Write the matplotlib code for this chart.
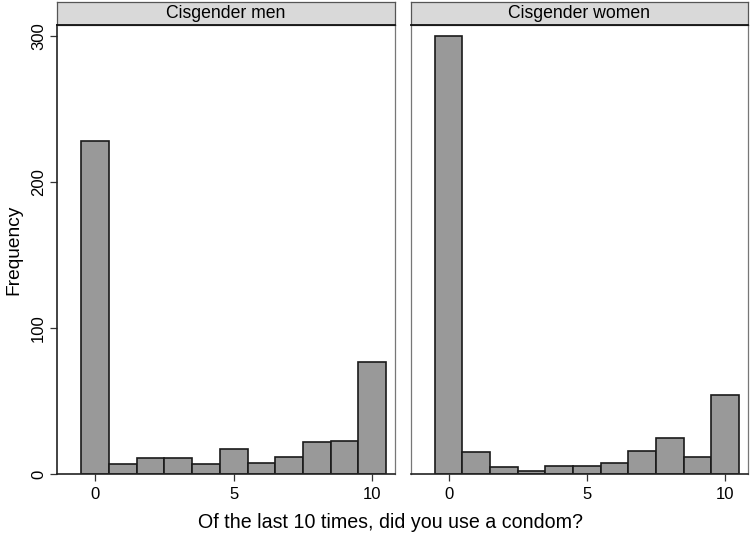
import matplotlib
matplotlib.use("Agg")
import matplotlib.pyplot as plt

plt.rcParams['font.family'] = ['Liberation Sans', 'DejaVu Sans']

panels = ["Cisgender men", "Cisgender women"]
bin_centers = [0, 1, 2, 3, 4, 5, 6, 7, 8, 9, 10]
freq_men = [228, 7, 11, 11, 7, 17, 8, 12, 22, 23, 77]
freq_women = [300, 15, 5, 2, 6, 6, 8, 16, 25, 12, 54]
series = [freq_men, freq_women]
y_ticks = [0, 100, 200, 300]
x_ticks = [0, 5, 10]
xlabel = "Of the last 10 times, did you use a condom?"
ylabel = "Frequency"

fig = plt.figure(figsize=(7.5, 5.33), dpi=100)
bottom = 0.1101
height = 0.843
lefts = [0.076, 0.5476]
widths = [0.4507, 0.4497]
strip_h = 0.0431

for i, (name, vals) in enumerate(zip(panels, series)):
    ax = fig.add_axes([lefts[i], bottom, widths[i], height])
    ax.bar(bin_centers, vals, width=1.0, color="#999999", edgecolor="#1a1a1a",
           linewidth=1.2, align="center", zorder=2)
    ax.set_xlim(-1.37, 10.82)
    ax.set_ylim(0, 307.5)
    ax.set_xticks(x_ticks)
    ax.set_xticklabels([str(t) for t in x_ticks], fontsize=12)
    ax.tick_params(axis='x', length=5, width=0.9, color="#333333", pad=4)
    for s in ["top", "right"]:
        ax.spines[s].set_color("#777777")
        ax.spines[s].set_linewidth(0.9)
    ax.spines["bottom"].set_color("#222222")
    ax.spines["bottom"].set_linewidth(1.2)
    if i == 0:
        ax.spines["left"].set_color("#222222")
        ax.spines["left"].set_linewidth(1.2)
        ax.set_yticks(y_ticks)
        ax.set_yticklabels([str(t) for t in y_ticks], fontsize=12,
                           rotation=90, va="center")
        ax.tick_params(axis='y', length=5, width=0.9, color="#333333", pad=3)
        ax.set_ylabel(ylabel, fontsize=13.8, labelpad=6)
    else:
        ax.spines["left"].set_color("#777777")
        ax.spines["left"].set_linewidth(0.9)
        ax.set_yticks([])
    # strip header
    sax = fig.add_axes([lefts[i], bottom + height, widths[i], strip_h])
    sax.set_xticks([]); sax.set_yticks([])
    sax.set_facecolor("#d9d9d9")
    for s in sax.spines.values():
        s.set_color("#555555")
        s.set_linewidth(0.9)
    sax.spines["bottom"].set_color("#111111")
    sax.spines["bottom"].set_linewidth(1.3)
    sax.text(0.5, 0.48, name, ha="center", va="center", fontsize=12.7,
             transform=sax.transAxes)

fig.text(0.521, 1 - 522 / 533, xlabel, ha="center", va="center", fontsize=14.1)
fig.savefig("out.png", dpi=100)
